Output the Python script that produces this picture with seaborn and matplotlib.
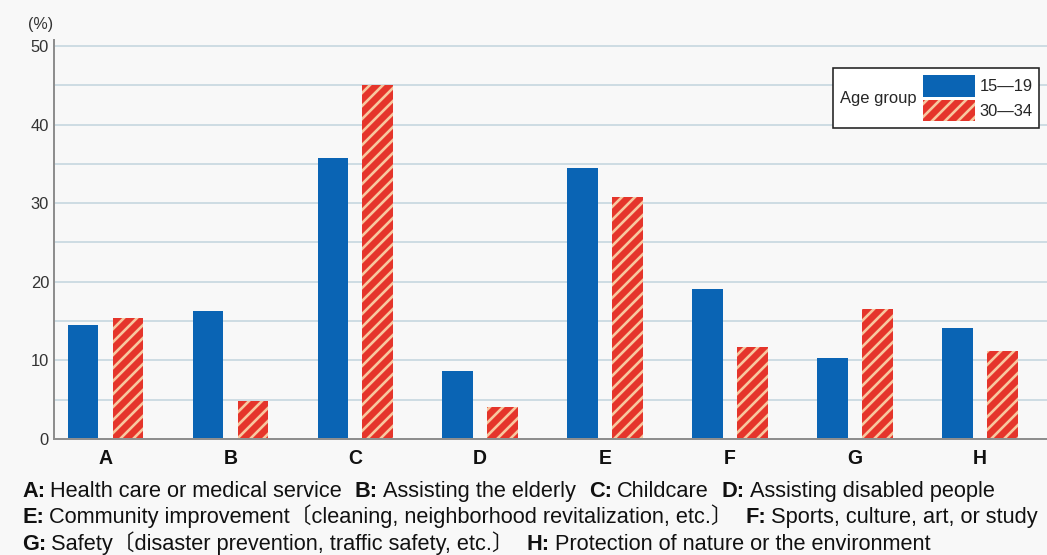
import matplotlib
matplotlib.use("Agg")
import matplotlib.pyplot as plt
from matplotlib.offsetbox import HPacker
from matplotlib.patches import Patch
from matplotlib.ticker import MultipleLocator
import pandas as pd
import seaborn as sns

# ---- data -------------------------------------------------------------
categories = ["A", "B", "C", "D", "E", "F", "G", "H"]
age_groups = ["15\u201419", "30\u201434"]
share_15_19 = [14.5, 16.3, 35.7, 8.7, 34.5, 19.1, 10.3, 14.1]
share_30_34 = [15.4, 4.8, 45.0, 4.1, 30.8, 11.7, 16.5, 11.2]
descriptions = [
    "Health care or medical service",
    "Assisting the elderly",
    "Childcare",
    "Assisting disabled people",
    "Community improvement\u3014cleaning, neighborhood revitalization, etc.\u3015",
    "Sports, culture, art, or study",
    "Safety\u3014disaster prevention, traffic safety, etc.\u3015",
    "Protection of nature or the environment",
]
y_unit = "(%)"
legend_title = "Age group"

df = pd.DataFrame({
    "category": categories * 2,
    "group": [age_groups[0]] * len(categories) + [age_groups[1]] * len(categories),
    "value": share_15_19 + share_30_34,
})

# ---- style ------------------------------------------------------------
W, H, DPI = 1047, 555, 78
PT = 72.0 / DPI          # points per pixel

def px(v):
    return v * PT

BG = "#f8f8f8"
BLUE = "#0a64b4"
RED = "#e5352b"
STRIPE = "#f8c8a0"
GRID = "#c4d6de"
SPINE = "#8e8e8e"

sns.set_theme(style="white")
plt.rcParams["font.family"] = ["Liberation Sans", "Noto Sans CJK JP", "DejaVu Sans"]
plt.rcParams["hatch.linewidth"] = px(2.6)

fig = plt.figure(figsize=(W / DPI, H / DPI), dpi=DPI, facecolor=BG)
ax = fig.add_axes([54 / W, (H - 439) / H, (W - 54) / W, (439 - 40) / H])
ax.set_facecolor(BG)

sns.barplot(
    data=df, x="category", y="value", hue="group",
    order=categories, hue_order=age_groups,
    palette=[BLUE, RED], saturation=1, width=0.72, gap=0.32,
    errorbar=None, legend=False, linewidth=0, ax=ax,
)
for bar in ax.containers[1]:
    bar.set_hatch("//")
    bar.set_edgecolor(STRIPE)
    bar.set_linewidth(0)

# ---- axes -------------------------------------------------------------
ax.set_xlim(-0.412, 7.538)
ax.set_ylim(0, 50.76)
ax.yaxis.set_major_locator(MultipleLocator(10))
ax.yaxis.set_minor_locator(MultipleLocator(5))
ax.grid(axis="y", which="both", color=GRID, linewidth=px(1.6), zorder=0)
ax.set_axisbelow(True)
ax.set_xlabel("")
ax.set_ylabel("")
ax.tick_params(axis="y", which="both", length=0, pad=px(5),
               labelsize=px(16.5), labelcolor="#333333")
ax.tick_params(axis="x", length=0, pad=px(10), labelsize=px(19.5),
               labelcolor="#111111")
for lab in ax.get_xticklabels():
    lab.set_fontweight("bold")
for side in ("top", "right"):
    ax.spines[side].set_visible(False)
for side in ("left", "bottom"):
    ax.spines[side].set_color(SPINE)
    ax.spines[side].set_linewidth(px(2))

fig.text(53 / W, 1 - 25 / H, y_unit, ha="right", va="center",
         fontsize=px(16), color="#333333")

# ---- legend with the title to the left of the entries -----------------
LEG_FS = 16.5
handles = [
    Patch(facecolor=BLUE, linewidth=0),
    Patch(facecolor=RED, hatch="//", edgecolor=STRIPE, linewidth=0),
]
leg = ax.legend(
    handles, age_groups, title=legend_title,
    loc="upper right", bbox_to_anchor=(1039 / W, 1 - 68 / H),
    bbox_transform=fig.transFigure, borderaxespad=0,
    fontsize=px(LEG_FS), title_fontsize=px(LEG_FS),
    handlelength=3.15, handleheight=1.67, labelspacing=0.18,
    handletextpad=0.25, borderpad=0.4,
    frameon=True, fancybox=False, framealpha=1,
    facecolor="white", edgecolor="#222222",
)
leg.get_frame().set_linewidth(px(1.6))
fs = leg._fontsize
side_box = HPacker(
    pad=leg.borderpad * fs, sep=0.42 * fs, align="center",
    children=[leg._legend_title_box, leg._legend_handle_box],
)
side_box.set_figure(fig)
side_box.axes = ax
side_box.set_offset(leg._findoffset)
leg._legend_box = side_box

# ---- category key under the chart -------------------------------------
rows = [[0, 1, 2, 3], [4, 5], [6, 7]]
row_base = [497, 523, 550]
X0 = 22
COLON_GAP = 5
ITEM_GAP = 13
renderer = fig.canvas.get_renderer()

def put(x, yb, s, size_px, made, **kw):
    t = fig.text(x / W, 1 - yb / H, s, fontsize=px(size_px), ha="left",
                 va="baseline", color="#111111", **kw)
    made.append(t)
    return t.get_window_extent(renderer).x1

def place_key(size_px, keep):
    made, widths = [], []
    for row, yb in zip(rows, row_base):
        x = X0
        for k, idx in enumerate(row):
            if k:
                x += ITEM_GAP
            x = put(x, yb, categories[idx] + ":", size_px, made,
                    fontweight="bold")
            x = put(x + COLON_GAP, yb, descriptions[idx], size_px, made)
        widths.append(x - X0)
    if not keep:
        for t in made:
            t.remove()
    return widths

def row_gaps(row):
    return (len(row) - 1) * ITEM_GAP + len(row) * COLON_GAP

# the key fills the width: the first row runs to the right edge and no
# row may spill past it
targets = [1024, 1020, 1020]
size = 18.0
for _ in range(3):
    w = place_key(size, keep=False)
    size *= min((t - row_gaps(r)) / (wi - row_gaps(r))
                for t, r, wi in zip(targets, rows, w))
place_key(size, keep=True)

fig.savefig("out.png", dpi=DPI, facecolor=BG)
